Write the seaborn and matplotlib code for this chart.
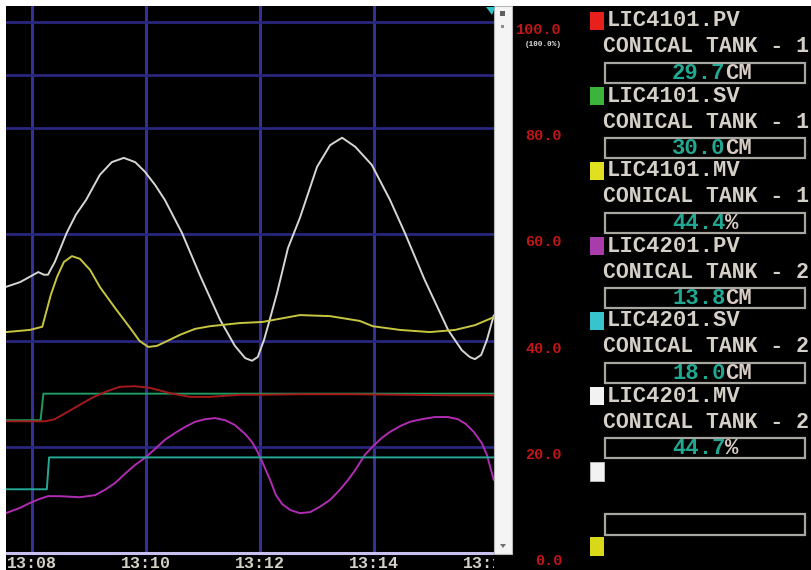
import matplotlib
matplotlib.use("Agg")
import matplotlib.pyplot as plt
import seaborn as sns
from matplotlib.patches import Rectangle, Polygon

# ---- trend data (time in minutes after 13:00, values in % of span) ----
t_mv2 = [7.54, 7.79, 7.96, 8.11, 8.21, 8.28, 8.40, 8.61, 8.77, 8.95, 9.19, 9.40,
         9.61, 9.81, 9.98, 10.16, 10.33, 10.63, 10.95, 11.30, 11.56, 11.74, 11.86,
         11.96, 12.07, 12.18, 12.30, 12.49, 12.70, 13.00, 13.23, 13.44, 13.67,
         13.96, 14.28, 14.54, 14.89, 15.30, 15.54, 15.68, 15.77, 15.88, 15.98, 16.10]
v_mv2 = [50.1, 51.0, 52.0, 52.9, 52.4, 52.4, 54.8, 60.3, 63.7, 66.5, 71.2, 73.6,
         74.4, 73.6, 71.8, 69.3, 66.5, 60.3, 52.2, 43.9, 39.0, 36.7, 36.2,
         36.9, 40.1, 44.3, 49.0, 57.4, 63.1, 72.7, 76.8, 78.2, 76.5,
         73.1, 66.5, 60.3, 51.4, 42.0, 38.2, 36.9, 36.5, 37.3, 40.1, 44.7]

t_mv1 = [7.54, 7.96, 8.18, 8.25, 8.33, 8.44, 8.56, 8.70, 8.84, 9.02, 9.19, 9.46,
         9.72, 9.89, 10.04, 10.19, 10.33, 10.60, 10.86, 11.12, 11.65, 12.04, 12.70,
         13.23, 13.75, 13.98, 14.46, 14.98, 15.42, 15.77, 16.10]
v_mv1 = [41.6, 42.0, 42.6, 45.4, 48.6, 52.0, 54.8, 55.9, 55.4, 53.3, 50.1, 46.1,
         42.4, 39.9, 38.8, 39.0, 39.7, 41.1, 42.2, 42.7, 43.3, 43.5, 44.8,
         44.6, 43.7, 42.7, 42.0, 41.6, 42.0, 42.9, 44.4]

t_pv1 = [7.54, 8.23, 8.40, 8.63, 8.84, 9.05, 9.28, 9.54, 9.81, 10.07, 10.42, 10.77,
         11.12, 11.65, 12.04, 12.70, 13.58, 14.46, 15.33, 16.10]
v_pv1 = [24.8, 24.8, 25.2, 26.6, 27.9, 29.2, 30.3, 31.3, 31.4, 31.1, 30.1, 29.4,
         29.4, 29.8, 29.8, 29.9, 29.9, 29.8, 29.7, 29.7]

t_sv1 = [7.54, 8.15, 8.20, 16.10]
v_sv1 = [25.0, 25.0, 30.0, 30.0]

t_sv2 = [7.54, 8.26, 8.30, 16.10]
v_sv2 = [12.0, 12.0, 18.0, 18.0]

t_pv2 = [7.54, 7.79, 7.96, 8.14, 8.28, 8.49, 8.84, 9.11, 9.28, 9.46, 9.63, 9.81,
         9.98, 10.16, 10.33, 10.51, 10.68, 10.86, 11.04, 11.21, 11.39, 11.56,
         11.74, 11.86, 11.96, 12.07, 12.18, 12.28, 12.39, 12.53, 12.70, 12.88,
         13.05, 13.23, 13.40, 13.54, 13.67, 13.84, 14.00, 14.14, 14.28, 14.46,
         14.63, 14.84, 15.07, 15.30, 15.47, 15.61, 15.75, 15.89, 15.98, 16.10]
v_pv2 = [7.5, 8.5, 9.4, 10.2, 10.7, 10.7, 10.5, 10.9, 11.9, 13.2, 14.9, 16.6,
         17.9, 19.6, 21.3, 22.6, 23.7, 24.7, 25.2, 25.4, 25.0, 24.1,
         22.4, 20.9, 19.0, 16.4, 13.7, 10.9, 9.2, 8.1, 7.5, 7.7,
         8.7, 10.0, 11.9, 13.7, 15.6, 18.5, 20.3, 21.7, 22.8, 23.9,
         24.7, 25.2, 25.6, 25.6, 25.2, 24.3, 22.8, 20.7, 18.5, 13.8]

tags = ["LIC4101.PV", "LIC4101.SV", "LIC4101.MV",
        "LIC4201.PV", "LIC4201.SV", "LIC4201.MV"]
descriptions = ["CONICAL TANK - 1", "CONICAL TANK - 1", "CONICAL TANK - 1",
                "CONICAL TANK - 2", "CONICAL TANK - 2", "CONICAL TANK - 2"]
units = ["CM", "CM", "%", "CM", "CM", "%"]
time_ticks = [8, 10, 12, 14, 16]
time_labels = ["13:08", "13:10", "13:12", "13:14", "13:16"]
scale_values = [100, 80, 60, 40, 20, 0]

W, H = 811, 570
MONO = "Liberation Mono"

fig = plt.figure(figsize=(W / 100, H / 100), dpi=100, facecolor="black")

# ---- trend area ----
ax = fig.add_axes([6 / W, 17 / H, 488 / W, 547 / H])
ax.set_facecolor("black")
ax.set_xlim(7.544, 16.105)
ax.set_ylim(0, 103)

for t in time_ticks[:-1]:
    ax.axvline(t, color="#34309a", lw=2.2, zorder=1)
for v in [100, 90, 80, 60, 40, 20]:
    ax.axhline(v, color="#29277e", lw=2.0, zorder=1)

series = [
    (t_mv2, v_mv2, "#d6d6d2"),
    (t_mv1, v_mv1, "#c8c640"),
    (t_sv1, v_sv1, "#1e9c62"),
    (t_pv1, v_pv1, "#a41a1a"),
    (t_pv2, v_pv2, "#b02cb2"),
    (t_sv2, v_sv2, "#26a896"),
]
for tx, vy, col in series:
    sns.lineplot(x=tx, y=vy, ax=ax, color=col, lw=1.4, estimator=None,
                 sort=False, zorder=3)

for s in ["left", "right", "top"]:
    ax.spines[s].set_visible(False)
ax.spines["bottom"].set_color("#c8c0ee")
ax.spines["bottom"].set_linewidth(2.2)
ax.set_yticks([])
ax.set_xticks(time_ticks)
ax.set_xticklabels(time_labels, fontfamily=MONO, fontweight="bold",
                   fontsize=12, color="#d4d2c8")
ax.tick_params(axis="x", length=0, pad=2)
ax.set_xlabel("")
ax.set_ylabel("")

# scale labels on the right of the trend
for v in scale_values:
    ax.annotate(f"{v:.1f}", xy=(1, v), xycoords=("axes fraction", "data"),
                xytext=(49, -5.8), textcoords="offset points", ha="right",
                va="center", fontfamily=MONO, fontweight="bold", fontsize=11,
                color="#c01616", annotation_clip=False)
ax.annotate("(100.0%)", xy=(1, 100), xycoords=("axes fraction", "data"),
            xytext=(49, -16.5), textcoords="offset points", ha="right",
            va="center", fontfamily=MONO, fontweight="bold", fontsize=5.5,
            color="#e0e0e0", annotation_clip=False)

# ---- overlay in pixel coordinates for frame and tag panel ----
ov = fig.add_axes([0, 0, 1, 1], zorder=5)
ov.set_xlim(0, W)
ov.set_ylim(H, 0)
ov.axis("off")
ov.patch.set_alpha(0)

# white frame edges
ov.add_patch(Rectangle((0, 0), W, 6, color="white", lw=0))
ov.add_patch(Rectangle((0, 0), 6, H, color="white", lw=0))
# hide the overflow of the last time label
ov.add_patch(Rectangle((494, 554), 26, 16, color="black", lw=0))
# scrollbar
ov.add_patch(Rectangle((494, 6), 18, 548, facecolor="#f4f4f4",
                       edgecolor="#b8b8b8", lw=0.8))
ov.add_patch(Rectangle((500, 11), 5, 5, color="#606060", lw=0))
ov.add_patch(Rectangle((501, 25), 3, 3, color="#909090", lw=0))
ov.add_patch(Polygon([(500, 544), (506, 544), (503, 548)], color="#707070", lw=0))
# set-value pointer
ov.add_patch(Polygon([(486, 7), (495, 7), (492, 15)], color="#30c4c4", lw=0))

square_colors = ["#e8201c", "#3cb43c", "#e0e020", "#a83caa", "#38c4cc", "#f2f2f2"]
last_values = [v_pv1[-1], v_sv1[-1], v_mv1[-1], v_pv2[-1], v_sv2[-1], v_mv2[-1]]
CH = 13.33  # character advance of the panel font, px

for i, (tag, desc, unit, sq, val) in enumerate(
        zip(tags, descriptions, units, square_colors, last_values)):
    y0 = 75 * i
    ov.add_patch(Rectangle((590, 12 + y0), 14, 18, color=sq, lw=0))
    ov.text(607, 21 + y0, tag, fontfamily=MONO, fontweight="bold",
            fontsize=16, color="#d4d0c8", va="center", ha="left")
    ov.text(603, 47 + y0, desc, fontfamily=MONO, fontweight="bold",
            fontsize=15.5, color="#d4d0c8", va="center", ha="left")
    ov.add_patch(Rectangle((605, 63 + y0), 200, 20, fill=False,
                           edgecolor="#a8a6a0", lw=1.6))
    num = f"{val:.1f}"
    ov.text(672, 73.5 + y0, num, fontfamily=MONO, fontweight="bold",
            fontsize=16, color="#22a892", va="center", ha="left")
    ov.text(672 + CH * len(num), 73.5 + y0, unit, fontfamily=MONO,
            fontweight="bold", fontsize=16, color="#d8ccc4", va="center",
            ha="left")

# spare pen slots
ov.add_patch(Rectangle((590, 462), 14, 19, facecolor="#f2f2f2",
                       edgecolor="#c0c0c0", lw=0.6))
ov.add_patch(Rectangle((605, 514), 200, 21, fill=False,
                       edgecolor="#a8a6a0", lw=1.6))
ov.add_patch(Rectangle((590, 537), 14, 19, color="#d8d818", lw=0))

fig.savefig("out.png", dpi=100, facecolor="black")
